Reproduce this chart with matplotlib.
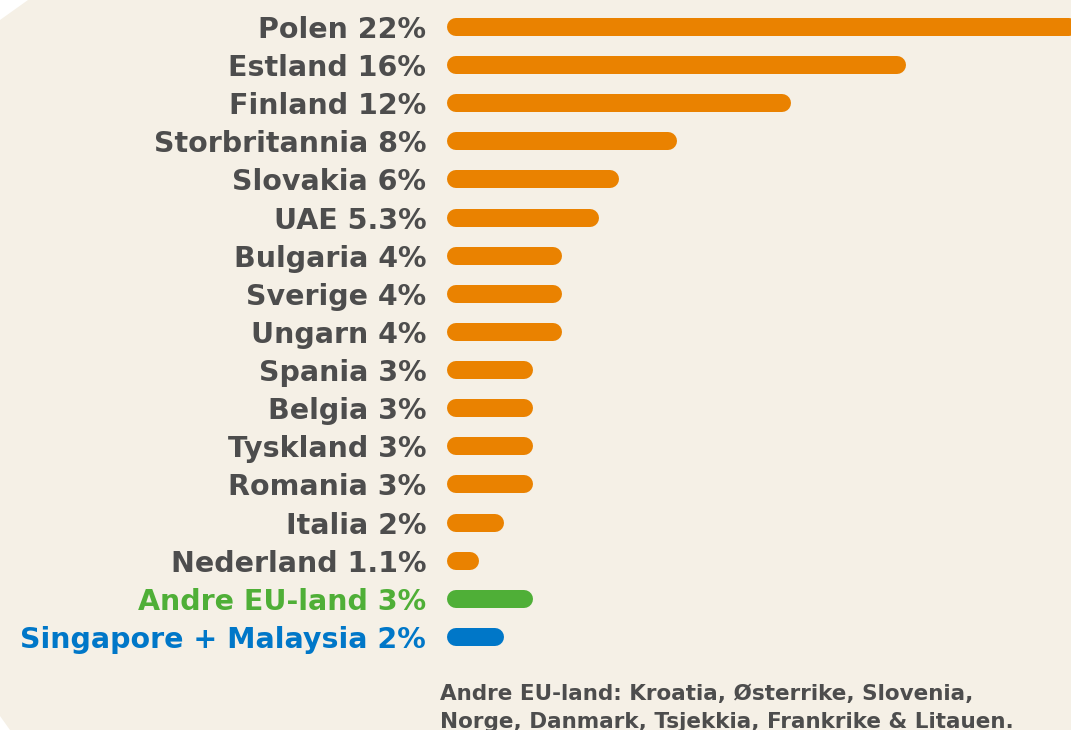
import matplotlib
matplotlib.use("Agg")
import matplotlib.pyplot as plt
from matplotlib.patches import Polygon

countries = ["Polen", "Estland", "Finland", "Storbritannia", "Slovakia", "UAE",
             "Bulgaria", "Sverige", "Ungarn", "Spania", "Belgia", "Tyskland",
             "Romania", "Italia", "Nederland", "Andre EU-land", "Singapore + Malaysia"]
values = [22, 16, 12, 8, 6, 5.3, 4, 4, 4, 3, 3, 3, 3, 2, 1.1, 3, 2]
value_labels = ["22%", "16%", "12%", "8%", "6%", "5.3%", "4%", "4%", "4%", "3%", "3%",
                "3%", "3%", "2%", "1.1%", "3%", "2%"]
groups = ["country"] * 15 + ["eu", "asia"]
footnote_lines = ["Andre EU-land: Kroatia, Østerrike, Slovenia,",
                  "Norge, Danmark, Tsjekkia, Frankrike & Litauen."]

BG = "#F5F0E6"
TEXT = "#4D4D4D"
colors = {"country": "#EA8200", "eu": "#4FAF37", "asia": "#0077C8"}
label_colors = {"country": TEXT, "eu": "#4FAF37", "asia": "#0077C8"}

W, H = 1071, 730
fig = plt.figure(figsize=(W / 100, H / 100), dpi=100)
fig.patch.set_facecolor(BG)

# decorative white corners
fig.patches.append(Polygon([[0, 1], [28 / W, 1], [0, 1 - 20 / H]], closed=True,
                           transform=fig.transFigure, facecolor="white", edgecolor="none"))
fig.patches.append(Polygon([[0, 0], [10 / W, 0], [0, 14 / H]], closed=True,
                           transform=fig.transFigure, facecolor="white", edgecolor="none"))

x0_px = 447
px_per_pct = 28.7
row0_px = 27
row_px = 38.125
ax = fig.add_axes([x0_px / W, 0, 1 - x0_px / W, 1])
ax.set_facecolor("none")
ax.set_xlim(0, (W - x0_px) / px_per_pct)
ax.set_ylim((H - row0_px) / row_px, -row0_px / row_px)

bar_h_px = 18
r_x = (bar_h_px / 2) / px_per_pct  # cap radius in data units
for i, (v, g) in enumerate(zip(values, groups)):
    ax.plot([r_x, v - r_x], [i, i], color=colors[g], lw=bar_h_px * 0.72,
            solid_capstyle="round")

ax.set_yticks(range(len(countries)))
ax.set_yticklabels([f"{c} {l}" for c, l in zip(countries, value_labels)],
                   fontsize=20.5, fontweight="bold", family="DejaVu Sans")
for t, g in zip(ax.get_yticklabels(), groups):
    t.set_color(label_colors[g])
ax.tick_params(axis="y", length=0, pad=15)
ax.set_xticks([])
for s in ax.spines.values():
    s.set_visible(False)

for k, line in enumerate(footnote_lines):
    fig.text(440 / W, 1 - (700 + 28 * k) / H, line, ha="left", va="baseline",
             fontsize=15.5, fontweight="bold", color=TEXT)

fig.savefig("out.png", dpi=100, facecolor=BG)
